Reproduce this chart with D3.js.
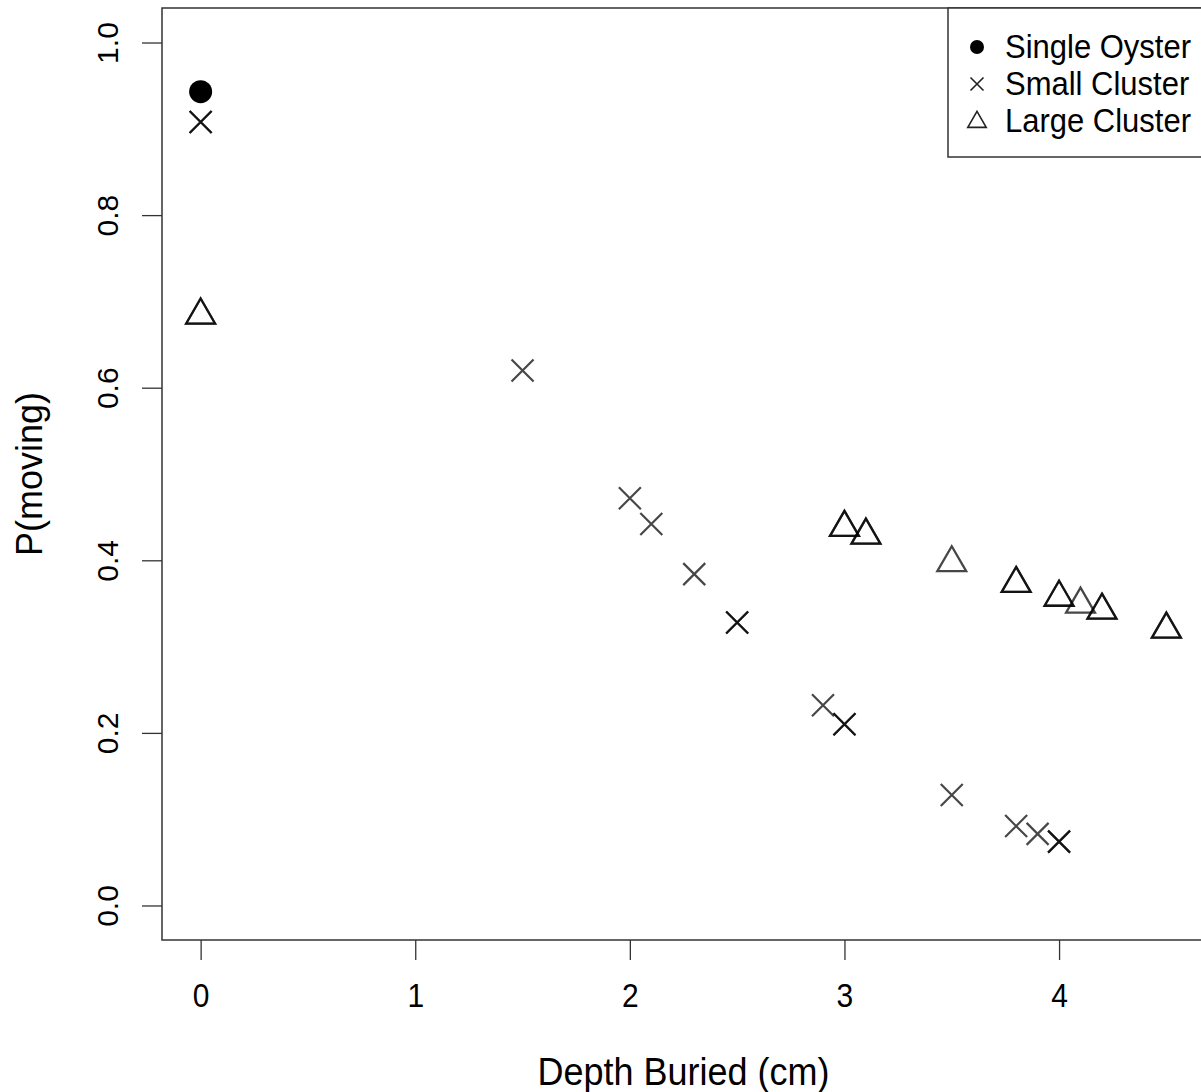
<!DOCTYPE html>
<html>
<head>
<meta charset="utf-8">
<script src="https://cdn.jsdelivr.net/npm/d3@7"></script>
<style>
  html, body { margin: 0; padding: 0; background: #fff; }
  svg { display: block; }
  text { font-family: "Liberation Sans", Arial, sans-serif; fill: #000; }
</style>
</head>
<body>
<script>
// Probability of movement vs. burial depth, by oyster grouping.
// n = number of observations plotted at the same spot (overplotting darkens the mark).
const singleDepth = [0];
const singleP     = [0.943];
const singleN     = [1];

const smallDepth = [0, 1.5, 2.0, 2.1, 2.3, 2.5, 2.9, 3.0, 3.5, 3.8, 3.9, 4.0];
const smallP     = [0.908, 0.620, 0.472, 0.442, 0.384, 0.328, 0.232, 0.210, 0.128, 0.092, 0.083, 0.074];
const smallN     = [2, 1, 1, 1, 1, 2, 1, 2, 1, 1, 1, 2];

const largeDepth = [0, 3.0, 3.1, 3.5, 3.8, 4.0, 4.1, 4.2, 4.5];
const largeP     = [0.684, 0.438, 0.429, 0.397, 0.373, 0.357, 0.349, 0.342, 0.320];
const largeN     = [2, 2, 2, 1, 2, 2, 1, 2, 2];

const xTicks = [0, 1, 2, 3, 4];
const yTicks = [0.0, 0.2, 0.4, 0.6, 0.8, 1.0];

const legendLabels = ["Single Oyster", "Small Cluster", "Large Cluster"];
const xTitle = "Depth Buried (cm)";
const yTitle = "P(moving)";

const W = 1201, H = 1092;
const plot = { left: 162, right: 1205, top: 8, bottom: 940 };

const svg = d3.select("body").append("svg")
  .attr("width", W).attr("height", H);

// Axis ranges padded 4% beyond the data limits (0..4.5 and 0..1)
const x = d3.scaleLinear().domain([-0.18, 4.68]).range([plot.left, plot.right]);
const y = d3.scaleLinear().domain([-0.04, 1.04]).range([plot.bottom, plot.top]);

const axisColor = "#333";

// X axis
const gx = svg.append("g").attr("transform", `translate(0,${plot.bottom})`)
  .call(d3.axisBottom(x).tickValues(xTicks).tickSize(20).tickFormat(d3.format("d")));
gx.select(".domain").remove();
gx.selectAll(".tick line").attr("stroke", axisColor).attr("stroke-width", 1.3);
gx.selectAll(".tick text")
  .attr("y", 0).attr("dy", 0)
  .attr("transform", "translate(0,67) scale(1,1.08)")
  .style("font-size", "30px")
  .style("font-family", "'Liberation Sans', Arial, sans-serif")
  .attr("fill", "#000");

// Y axis with rotated labels
const gy = svg.append("g").attr("transform", `translate(${plot.left},0)`)
  .call(d3.axisLeft(y).tickValues(yTicks).tickSize(20).tickFormat(d3.format(".1f")));
gy.select(".domain").remove();
gy.selectAll(".tick line").attr("stroke", axisColor).attr("stroke-width", 1.3);
gy.selectAll(".tick text")
  .attr("x", null).attr("dy", 0)
  .attr("transform", "translate(-44,0) rotate(-90)")
  .attr("text-anchor", "middle")
  .style("font-size", "30px")
  .style("font-family", "'Liberation Sans', Arial, sans-serif")
  .attr("fill", "#000");

// Plot frame
svg.append("rect")
  .attr("x", plot.left).attr("y", plot.top)
  .attr("width", plot.right - plot.left).attr("height", plot.bottom - plot.top)
  .attr("fill", "none").attr("stroke", axisColor).attr("stroke-width", 1.5);

// Axis titles
svg.append("text")
  .attr("transform", `translate(${(plot.left + plot.right) / 2},1085) scale(1,1.08)`)
  .attr("text-anchor", "middle").style("font-size", "36px")
  .text(xTitle);
svg.append("text")
  .attr("transform", `translate(42,${(plot.top + plot.bottom) / 2}) rotate(-90)`)
  .attr("text-anchor", "middle").style("font-size", "36px")
  .text(yTitle);

// Marker shapes
function crossPath(s) {
  return `M${-s},${-s}L${s},${s}M${-s},${s}L${s},${-s}`;
}
function trianglePath(h) {
  // centred on the centroid: apex 2/3 h above, base 1/3 h below
  const hw = h / Math.sqrt(3);
  return `M0,${-2 * h / 3}L${hw},${h / 3}L${-hw},${h / 3}Z`;
}

const markAlpha = 0.72;

function expand(xs, ys, ns) {
  const out = [];
  xs.forEach((d, i) => { for (let k = 0; k < ns[i]; k++) out.push({ x: d, y: ys[i] }); });
  return out;
}

const marks = svg.append("g");

// Single oysters: filled circles
marks.selectAll("circle.single")
  .data(expand(singleDepth, singleP, singleN))
  .join("circle")
  .attr("class", "single")
  .attr("cx", d => x(d.x)).attr("cy", d => y(d.y))
  .attr("r", 11.5).attr("fill", "#000");

// Small clusters: crosses
marks.selectAll("path.small")
  .data(expand(smallDepth, smallP, smallN))
  .join("path")
  .attr("class", "small")
  .attr("transform", d => `translate(${x(d.x)},${y(d.y)})`)
  .attr("d", crossPath(11))
  .attr("fill", "none").attr("stroke", "#000")
  .attr("stroke-opacity", markAlpha).attr("stroke-width", 2.2);

// Large clusters: open triangles
marks.selectAll("path.large")
  .data(expand(largeDepth, largeP, largeN))
  .join("path")
  .attr("class", "large")
  .attr("transform", d => `translate(${x(d.x)},${y(d.y)})`)
  .attr("d", trianglePath(25))
  .attr("fill", "none").attr("stroke", "#000")
  .attr("stroke-opacity", markAlpha).attr("stroke-width", 2.3)
  .attr("stroke-linejoin", "miter");

// Legend (top right, anchored to the plot frame)
const lg = svg.append("g");
lg.append("rect")
  .attr("x", 948).attr("y", plot.top)
  .attr("width", 300).attr("height", 149)
  .attr("fill", "#fff").attr("stroke", axisColor).attr("stroke-width", 1.5);

const legendY = [47, 84, 121];
const symX = 977;
lg.append("circle").attr("cx", symX).attr("cy", legendY[0]).attr("r", 7).attr("fill", "#000");
lg.append("path").attr("transform", `translate(${symX},${legendY[1]})`)
  .attr("d", crossPath(6.5)).attr("fill", "none").attr("stroke", "#222").attr("stroke-width", 1.6);
lg.append("path").attr("transform", `translate(${symX},${legendY[2] + 1})`)
  .attr("d", trianglePath(16)).attr("fill", "none").attr("stroke", "#222").attr("stroke-width", 1.6);

lg.selectAll("text.leg")
  .data(legendLabels)
  .join("text")
  .attr("class", "leg")
  .attr("transform", (d, i) => `translate(1005,${legendY[i] + 10.5}) scale(1,1.08)`)
  .style("font-size", "31px")
  .text(d => d);
</script>
</body>
</html>
